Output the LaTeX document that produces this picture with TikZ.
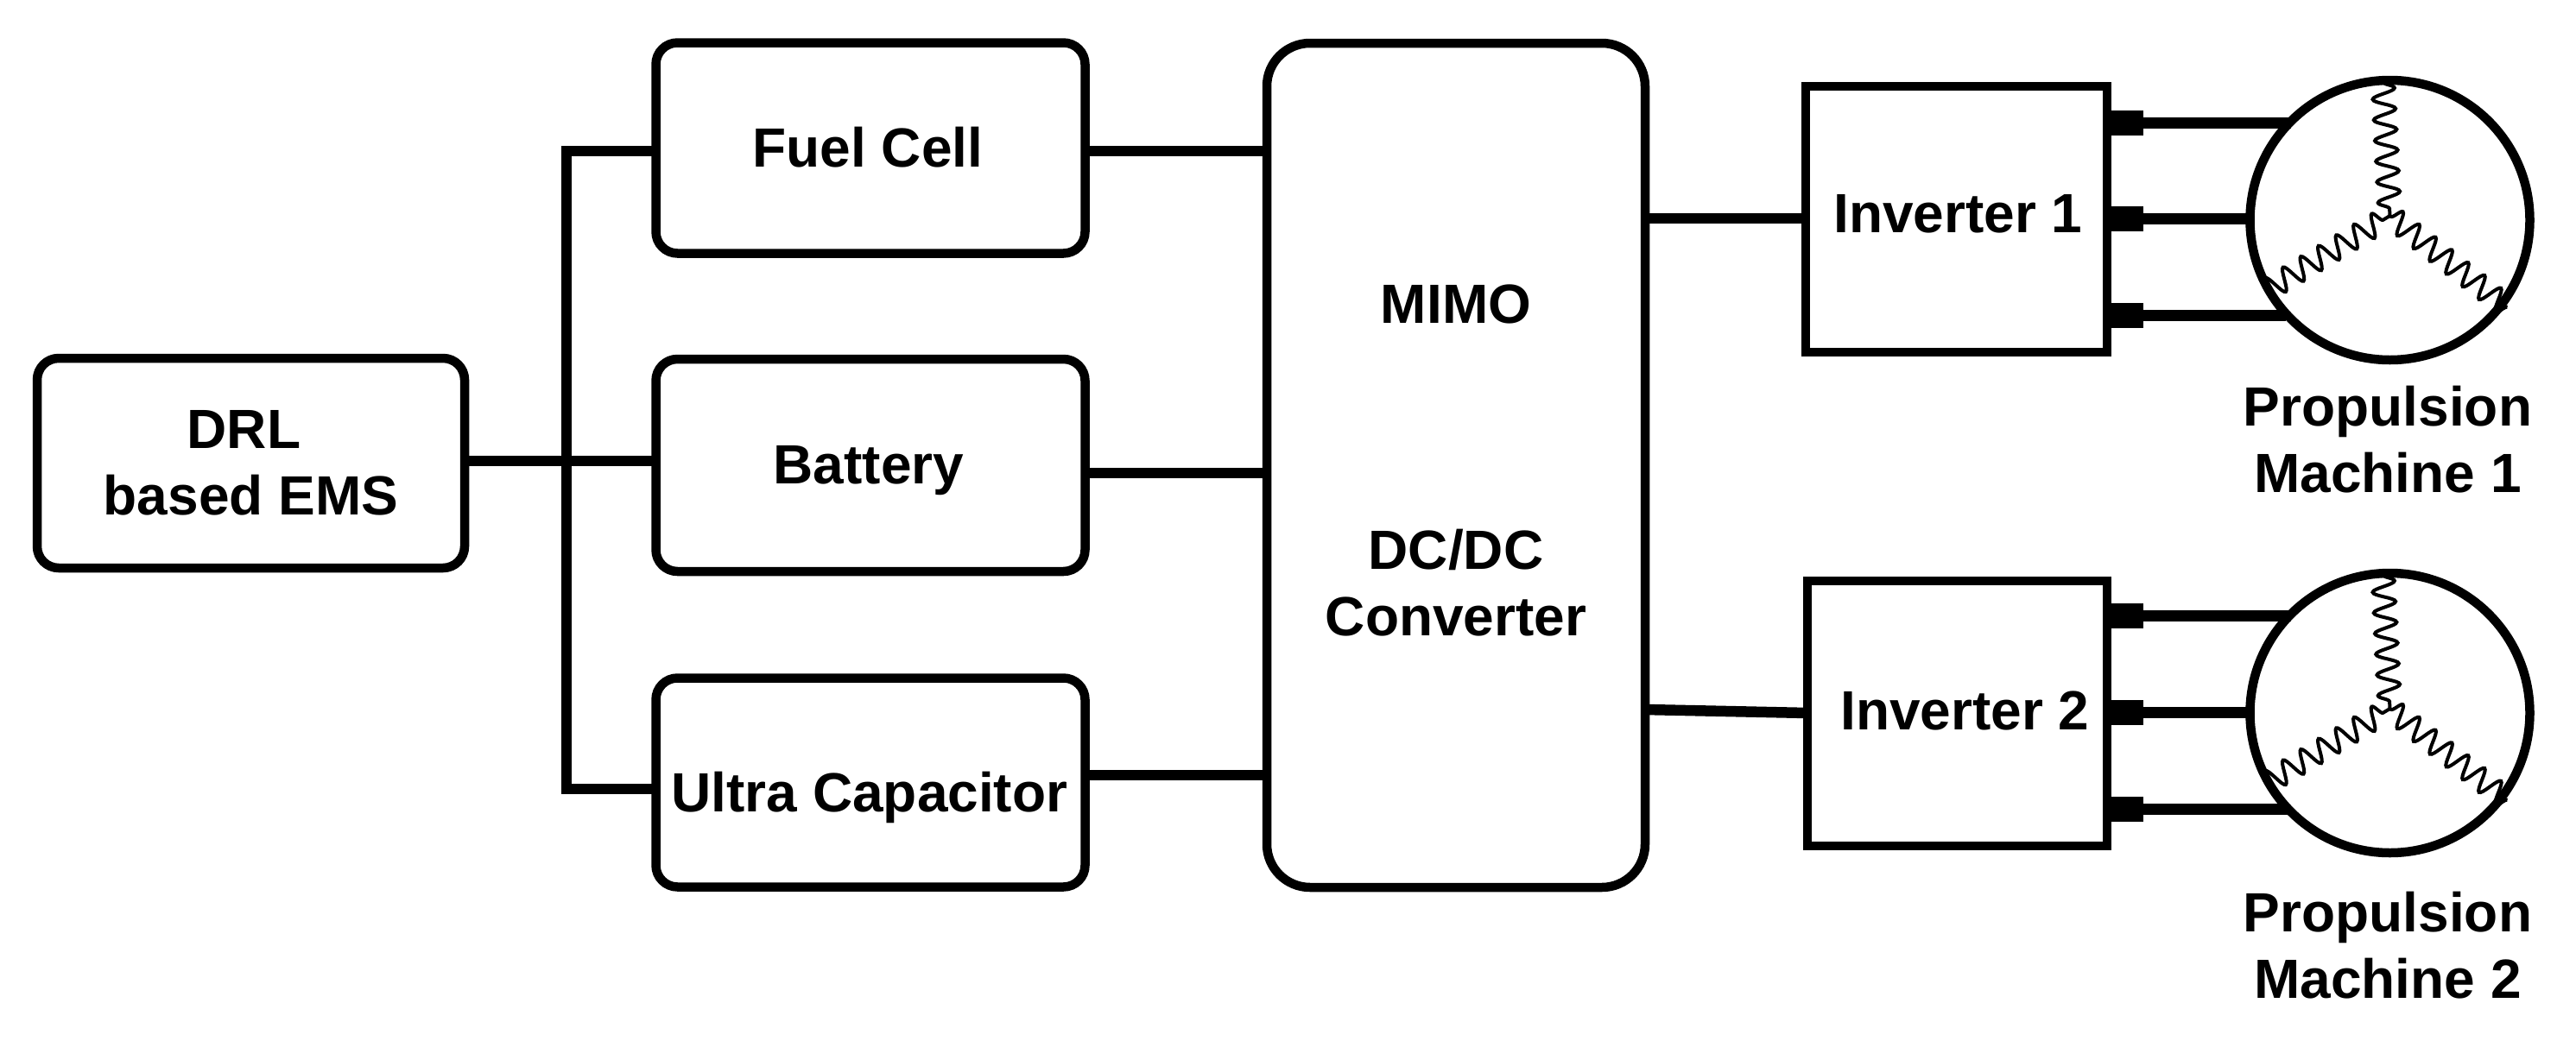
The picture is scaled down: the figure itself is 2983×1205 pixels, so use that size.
\documentclass[tikz,border=0pt]{standalone}
\usepackage{fontspec}
\setmainfont{Liberation Sans}
\usetikzlibrary{calc,decorations.pathmorphing}
\tikzset{
  txt/.style={font=\fontsize{32}{38.3}\selectfont\bfseries,text=black},
  rbox/.style={txt,draw=black,fill=white,line width=5.25pt,rounded corners=12.5pt,inner sep=0pt,outer sep=0pt,align=center},
  sbox/.style={txt,draw=black,fill=white,line width=5.25pt,inner sep=0pt,outer sep=0pt,text height=23pt},
  stub/.style={fill=black,inner sep=0pt,outer sep=0pt,minimum width=18.5pt,minimum height=14.5pt},
  machine/.style={circle,draw=black,fill=white,line width=5.25pt,inner sep=0pt,outer sep=0pt,minimum size=162pt},
  plain/.style={txt,inner sep=0pt,align=center},
  wire/.style={line width=6.25pt,draw=black},
  twire/.style={line width=6.5pt,draw=black},
  winding/.style={line width=2pt,draw=black,decorate,decoration={snake,amplitude=6.5pt,segment length=12pt}},
}
\begin{document}
\begin{tikzpicture}[x=0.5pt,y=-0.5pt]
\useasboundingbox (0,0) rectangle (2983,1205);
% boxes
\node[rbox,minimum width=247.5pt,minimum height=121.5pt] (drl) at (290.5,536.5) {DRL\hspace*{8pt}\\based EMS};
\node[rbox,minimum width=248.5pt,minimum height=122pt,text height=23pt,text depth=1pt] (fuel) at (1008,171.5) {Fuel Cell\hspace*{3pt}};
\node[rbox,minimum width=248.5pt,minimum height=123pt,text height=23pt,text depth=2pt] (batt) at (1008,539) {Battery\hspace*{2pt}};
\node[rbox,minimum width=248.5pt,minimum height=121pt,text height=34pt,text depth=0pt] (ultra) at (1008,906.5) {Ultra Capacitor\hspace*{1pt}};
\node[rbox,rounded corners=25pt,minimum width=219pt,minimum height=489pt] (mimo) at (1686,539) {};
\node[plain] (mimotxt) at (1686,352) {MIMO};
\node[plain] (dctxt) at (1686,675) {DC/DC\\Converter};
\node[sbox,text depth=8pt,minimum width=174.5pt,minimum height=154pt] (inv1) at (2265.5,254) {\hspace*{2pt}Inverter 1};
\node[sbox,text depth=4pt,minimum width=173.5pt,minimum height=153.5pt] (inv2) at (2266.5,826.5) {\hspace*{9pt}Inverter 2};
% terminals
\node[stub] (s11) at (2463.5,142.5) {};
\node[stub] (s12) at (2463.5,253.5) {};
\node[stub] (s13) at (2463.5,365) {};
\node[stub] (s21) at (2463.5,713.5) {};
\node[stub] (s22) at (2463.5,825) {};
\node[stub] (s23) at (2463.5,937.5) {};
% machines
\node[machine] (m1) at (2767.5,255) {};
\node[machine] (m2) at (2767.5,826) {};
\foreach \m in {m1,m2}{
  \coordinate (hub) at ($(\m.center)+(0,-5)$);
  \draw[winding] ($(\m.center)+(-8,-160)$) -- (hub);
  \draw[winding] ($(\m.center)+(-144,82)$) -- (hub);
  \draw[winding] ($(\m.center)+(136,101)$) -- (hub);
}
\node[plain] (l1) at (2765,509) {Propulsion\\Machine 1};
\node[plain] (l2) at (2765,1095) {Propulsion\\Machine 2};
% connectors
\coordinate (busa) at (656,175);
\coordinate (busb) at (656,914);
\draw[wire] (fuel.west |- busa) -- (busa) -- (busb) -- (ultra.west |- busb);
\draw[wire] (drl.east |- 0,534) -- (batt.west |- 0,534);
\draw[wire] (fuel.east |- 0,175) -- (mimo.west |- 0,175);
\draw[wire] (batt.east |- 0,548) -- (mimo.west |- 0,548);
\draw[wire] (ultra.east |- 0,898) -- (mimo.west |- 0,898);
\draw[wire] (mimo.east |- 0,253) -- (inv1.west |- 0,253);
\draw[wire] (mimo.east |- 0,822) -- (inv2.west |- 0,826);
\draw[twire] (s11.east) -- (s11.east -| m1.135.8);
\draw[twire] (s12.east) -- (s12.east -| m1.180);
\draw[twire] (s13.east) -- (s13.east -| m1.222.3);
\draw[twire] (s21.east) -- (s21.east -| m2.135.8);
\draw[twire] (s22.east) -- (s22.east -| m2.180);
\draw[twire] (s23.east) -- (s23.east -| m2.223.2);
\end{tikzpicture}
\end{document}
